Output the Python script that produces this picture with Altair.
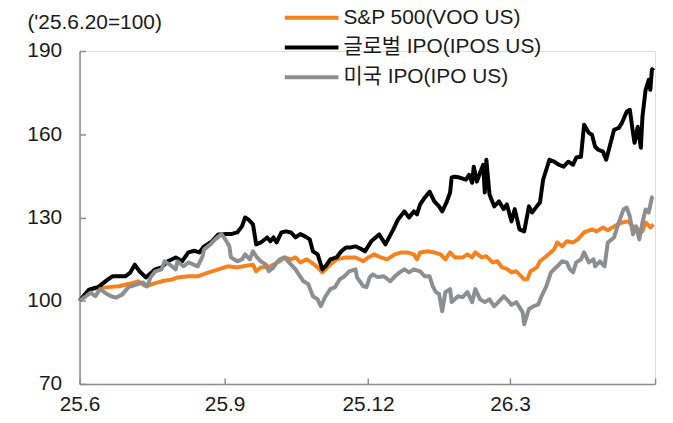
import altair as alt
import pandas as pd

# ---------------- data ----------------
series_names = ["S&P 500(VOO US)", "글로벌 IPO(IPOS US)", "미국 IPO(IPO US)"]
series_colors = ["#F5821F", "#000000", "#8C8E90"]

# day offsets from 2025-06-20 and index values ('25.6.20 = 100)
voo_days = [0, 8, 18, 25, 31, 37, 42, 46, 52, 59, 62, 69, 75, 81, 88, 94, 100, 104, 110, 112,
            115, 121, 127, 130, 134, 137, 140, 144, 147, 151, 154, 159, 163, 169, 175, 180, 183, 187, 191, 195,
            200, 204, 208, 212, 214, 216, 221, 225, 229, 232, 235, 238, 243, 246, 249, 251, 255, 258, 262, 265,
            268, 271, 274, 277, 282, 284, 286, 290, 292, 296, 301, 303, 306, 309, 313, 316, 320, 325, 328, 332,
            335, 339, 344, 348, 351, 354, 357, 359, 362, 364]
voo_vals = [100, 104.2, 104.9, 105.2, 106, 107, 105.2, 106, 107, 107.7, 108.4, 108.8, 108.8, 110, 111.3, 112.4, 112, 112.4, 113, 110.6,
            112, 112.4, 114.2, 115.6, 114.9, 115.6, 113.8, 114.9, 113.8, 112, 110.2, 113.1, 114.9, 115.6, 115.6, 114.2, 115.6, 116.7, 115.6, 114.9,
            116.7, 117.4, 117.4, 116.7, 114.9, 117.4, 117.8, 117.4, 116.7, 114.9, 117.4, 115.6, 115.6, 116.7, 115.6, 117.4, 115.6, 116, 113.8, 114.2,
            112, 111.5, 110.2, 110.6, 107.7, 107.7, 110.6, 112, 114.2, 116, 118.5, 121, 119.6, 121.4, 121, 122.1, 124.6, 125.7, 125, 126.4,
            125.4, 126.8, 128.2, 128.6, 126.8, 125.7, 125, 128.2, 126.4, 127.5]

ipos_days = [0, 6, 12, 18, 21, 29, 32, 35, 38, 42, 48, 52, 56, 61, 65, 69, 73, 76, 79, 84,
             88, 92, 96, 100, 103, 105, 107, 110, 112, 115, 119, 121, 123, 125, 128, 131, 134, 137, 140, 143,
             146, 148, 151, 154, 156, 159, 163, 166, 169, 172, 175, 178, 181, 185, 190, 194, 199, 202, 206, 209,
             212, 214, 216, 219, 222, 225, 228, 230, 233, 235, 236, 238, 241, 245, 247, 249, 250, 252, 254, 256,
             257, 258, 260, 263, 266, 269, 271, 274, 276, 279, 282, 285, 287, 290, 292, 294, 296, 298, 301, 304,
             307, 310, 313, 315, 318, 320, 323, 325, 327, 329, 332, 334, 337, 339, 342, 344, 347, 349, 351, 352,
             354, 356, 357, 359, 361, 362, 363, 364]
ipos_vals = [100, 104, 105, 107.7, 108.8, 108.8, 110, 113, 110.6, 108.4, 111.3, 112, 114.2, 115.6, 114.2, 117.4, 118, 117.4, 119.6, 121.4,
             123.9, 124, 124, 124.6, 126.8, 130, 129.3, 127.5, 120.3, 121, 122.8, 121.4, 122.8, 121, 124.6, 125, 124.6, 122.8, 124, 123.2,
             122.1, 117.8, 116.7, 111.3, 112.4, 114.9, 115.6, 117.8, 119.2, 119.2, 119.6, 118.8, 117.8, 121.4, 123.9, 120.3, 125.7, 129.3, 132.2, 130,
             132.2, 131.1, 134.7, 137.2, 139.3, 135.8, 134, 132.2, 135.8, 139, 144.4, 144.7, 144.4, 143.6, 145.4, 142.5, 148.3, 142.9, 146.1, 149,
             139, 150.8, 138.3, 134, 135.8, 133, 134.7, 128.6, 133, 125.7, 125, 134, 131.8, 134, 135.4, 143.6, 147.2, 150.8, 150.1, 149,
             148.3, 150.1, 149, 151.6, 151.9, 163.4, 160.5, 159.8, 155.5, 154.4, 153.7, 150.8, 157.3, 161.6, 162.3, 164.1, 168.1, 168.8, 160.5, 156.9,
             162.7, 155.1, 166.3, 176, 179.6, 176, 183.2, 183.9]

ipo_days = [0, 4, 7, 10, 13, 16, 20, 23, 27, 31, 37, 40, 43, 45, 48, 52, 54, 57, 61, 62,
            66, 69, 72, 75, 78, 79, 83, 86, 90, 92, 95, 96, 100, 103, 105, 108, 110, 112, 115, 118,
            120, 123, 125, 127, 130, 134, 137, 139, 142, 145, 148, 151, 153, 156, 159, 162, 165, 168, 171, 175,
            176, 180, 182, 184, 186, 189, 193, 197, 200, 203, 206, 209, 212, 216, 219, 222, 224, 226, 228, 230,
            232, 235, 236, 240, 243, 246, 249, 251, 254, 257, 260, 263, 266, 269, 271, 274, 277, 281, 282, 285,
            288, 291, 293, 296, 299, 303, 306, 309, 311, 313, 315, 318, 320, 323, 326, 327, 330, 333, 335, 339,
            342, 345, 347, 349, 351, 353, 355, 357, 359, 361, 363, 364]
ipo_vals = [100, 101.6, 102.9, 101.6, 104.2, 102.9, 101.6, 101.1, 102.2, 104.9, 106, 106.6, 105.2, 108.4, 110.6, 111.3, 114.2, 113.1, 111.3, 114.2,
            112.4, 113.8, 113.1, 112.4, 116, 118.5, 120.3, 122.1, 124, 122.5, 119.6, 115.6, 114.2, 114.9, 116.7, 114.9, 117.8, 116, 114.2, 113.1,
            110.6, 112, 113.8, 114.9, 115.6, 113.1, 111.3, 109.5, 107, 106, 101.6, 100.5, 98, 101.6, 104.2, 104.9, 107.7, 108.8, 110.6, 111.3,
            108.4, 105.2, 104.9, 108.4, 109.5, 108.5, 108.8, 107, 108.8, 110.2, 111.3, 110.2, 111.3, 110.6, 108.8, 108.8, 105.2, 103.1, 102.4, 96.2,
            103.1, 104.2, 99.5, 101.6, 101.3, 103.1, 99.5, 104.2, 100.5, 99.5, 100.5, 98, 99.8, 101.6, 100.5, 98.5, 99.5, 95.9, 91.5, 97,
            98, 98.7, 101.6, 105.2, 110.2, 112.4, 114.2, 113.8, 111.3, 110.2, 113.8, 114.9, 117.4, 113.8, 114.9, 112.4, 114.2, 112.4, 121, 122.8,
            128.2, 132.9, 133.6, 130.4, 123.9, 126.8, 122.1, 128.2, 132.9, 131.8, 137.2, 137.5]

x_tick_days = [0, 92, 183, 273, 365]
x_tick_labels = ["25.6", "25.9", "25.12", "26.3", ""]
y_ticks = [70, 100, 130, 160, 190]
y_domain = [70, 190]
x_domain = [0, 365]
unit_note = "('25.6.20=100)"

# ---------------- table ----------------
rows = []
for name, days, vals in zip(series_names,
                            [voo_days, ipos_days, ipo_days],
                            [voo_vals, ipos_vals, ipo_vals]):
    for d, v in zip(days, vals):
        rows.append({"series": name, "day": d, "value": v})
df = pd.DataFrame(rows)

label_expr = " : ".join(
    f"datum.value == {d} ? '{l}'" for d, l in zip(x_tick_days, x_tick_labels)
) + " : ''"

FONT = "Liberation Sans, Arial, Noto Sans CJK KR, sans-serif"
AXIS_GRAY = "#8C8C8C"
TEXT = "#1A1A1A"
W, H = 579, 335

x_scale = alt.Scale(domain=x_domain, nice=False, zero=False)
y_scale = alt.Scale(domain=y_domain, nice=False, zero=False)

lines = alt.Chart(df).mark_line(strokeWidth=4, strokeJoin="round").encode(
    x=alt.X("day:Q", scale=x_scale,
            axis=alt.Axis(values=x_tick_days[:-1], labelExpr=label_expr, ticks=False, tickSize=0,
                          grid=False, domain=True, domainColor=AXIS_GRAY, domainWidth=1.5,
                          labelPadding=10, labelFontSize=21, labelColor=TEXT, labelFont=FONT,
                          labelFlush=False, labelOverlap=False, title=None)),
    y=alt.Y("value:Q", scale=y_scale,
            axis=alt.Axis(values=y_ticks, ticks=False, tickSize=0, grid=False, domain=True,
                          domainColor=AXIS_GRAY, domainWidth=1.5, labelPadding=18,
                          labelFontSize=21, labelColor=TEXT, labelFont=FONT, labelOverlap=False,
                          title=unit_note, titleAngle=0, titleX=-53, titleY=-23,
                          titleAlign="left", titleBaseline="alphabetic", titleFontSize=21,
                          titleFontWeight="normal", titleColor=TEXT, titleFont=FONT)),
    color=alt.Color("series:N",
                    scale=alt.Scale(domain=series_names, range=series_colors),
                    sort=series_names,
                    legend=alt.Legend(orient="none", legendX=223, legendY=-44, title=None,
                                      symbolType="M-27,0H27", symbolSize=4, symbolStrokeWidth=4,
                                      labelFontSize=21, labelFont=FONT, labelColor=TEXT,
                                      labelOffset=21.5, labelLimit=0, rowPadding=8, padding=0)),
)

ticks = alt.Chart(df).mark_point(opacity=0).encode(
    x=alt.X("day:Q", scale=x_scale,
            axis=alt.Axis(orient="top", offset=-H, values=x_tick_days, labels=False, domain=False,
                          grid=False, ticks=True, tickSize=6, tickColor=AXIS_GRAY, tickWidth=1.5,
                          title=None)),
    y=alt.Y("value:Q", scale=y_scale,
            axis=alt.Axis(orient="right", offset=-W, values=y_ticks, labels=False, domain=False,
                          grid=False, ticks=True, tickSize=6, tickColor=AXIS_GRAY, tickWidth=1.5,
                          title=None)),
)

chart = alt.layer(lines, ticks).resolve_axis(x="independent", y="independent").properties(
    width=W, height=H,
    padding={"left": 72, "top": 42, "right": 10, "bottom": 30},
    autosize=alt.AutoSizeParams(type="none"),
    background="white",
).configure_view(stroke=None).configure(font=FONT)

chart.save("out.html", embed_options={"renderer": "svg", "actions": False})
